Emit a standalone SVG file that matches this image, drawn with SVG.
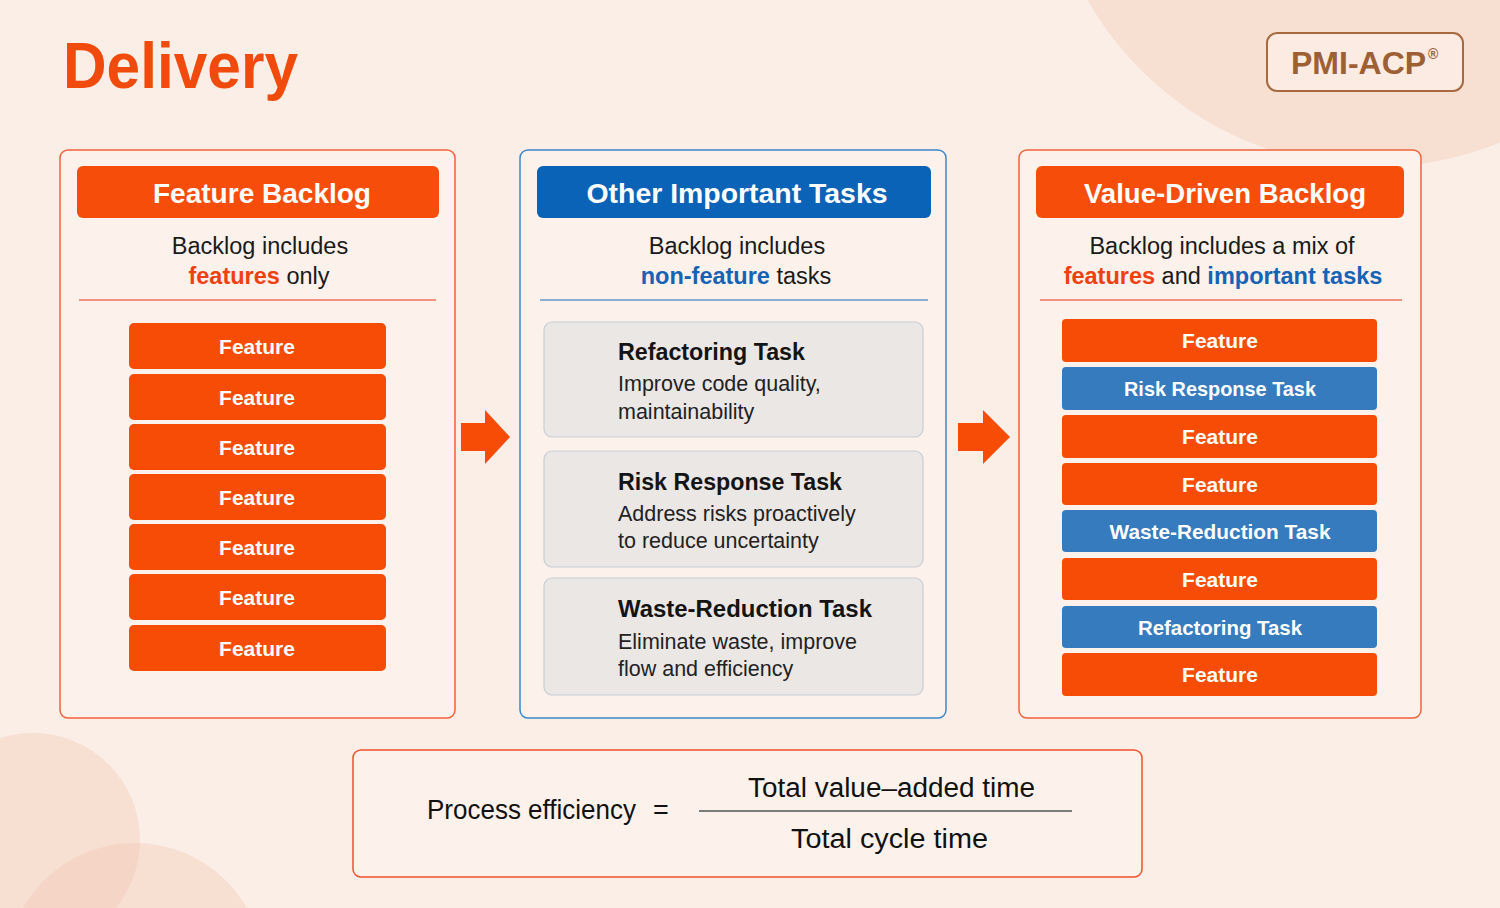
<svg xmlns="http://www.w3.org/2000/svg" width="1500" height="908" viewBox="0 0 1500 908">
<defs>
<style>
text{font-family:"Liberation Sans",Arial,sans-serif}
.panelO{fill:#FCF1EB;stroke:#F2613A;stroke-width:1.5}
.panelB{fill:#FCF1EB;stroke:#3B86CC;stroke-width:1.5}
.hdrO{fill:#F74D0A}
.hdrB{fill:#0B63B8}
.hdrT{fill:#fff;font-weight:bold;font-size:28px;text-anchor:middle}
.sub{fill:#1a1a1a;font-size:23.5px;text-anchor:middle}
.red{fill:#F0400F;font-weight:bold}
.blu{fill:#1663B5;font-weight:bold}
.barO{fill:#F74C05}
.barB{fill:#357BBE}
.barT{fill:#fff;font-weight:bold;font-size:21px;text-anchor:middle}
.card{fill:#EAE7E5;stroke:#C8CDD5;stroke-width:1.2}
.ct{fill:#141414;font-weight:bold;font-size:23px}
.cd{fill:#222;font-size:21.5px}
.deco{fill:#F2C7B3;opacity:0.4}
.arrow{fill:#F74C05}
.ftxt{fill:#111;font-size:27px}
</style>
</defs>
<rect x="0" y="0" width="1500" height="908" fill="#FBEEE7"/>
<g id="decor">
<circle class="deco" cx="1375" cy="-164" r="331"/>
<circle class="deco" cx="33" cy="840" r="107"/>
<circle class="deco" cx="135" cy="972" r="129"/>
</g>
<g id="title">
<text x="63" y="88" font-size="64" font-weight="bold" fill="#F04A0C" textLength="235" lengthAdjust="spacingAndGlyphs">Delivery</text>
</g>
<g id="badge">
<rect x="1267" y="33" width="196" height="58" rx="10" fill="#FBEBE2" stroke="#A8693F" stroke-width="2"/>
<text x="1291" y="74" font-size="32" font-weight="bold" fill="#9E5F35">PMI-ACP<tspan font-size="14" dx="2" dy="-15">®</tspan></text>
</g>
<g id="feature-backlog">
<rect class="panelO" x="60" y="150" width="395" height="568" rx="8"/>
<rect class="hdrO" x="77" y="166" width="362" height="52" rx="6"/>
<text class="hdrT" x="262" y="203" textLength="218" lengthAdjust="spacingAndGlyphs">Feature Backlog</text>
<text class="sub" x="260" y="254">Backlog includes</text>
<text class="sub" x="259" y="284"><tspan class="red">features</tspan> only</text>
<line x1="79" y1="300" x2="436" y2="300" stroke="#E8361A" stroke-width="1.2"/>
<g>
<rect class="barO" x="129" y="323" width="257" height="46" rx="5"/><text class="barT" x="257" y="354">Feature</text>
<rect class="barO" x="129" y="374" width="257" height="46" rx="5"/><text class="barT" x="257" y="405">Feature</text>
<rect class="barO" x="129" y="424" width="257" height="46" rx="5"/><text class="barT" x="257" y="455">Feature</text>
<rect class="barO" x="129" y="474" width="257" height="46" rx="5"/><text class="barT" x="257" y="505">Feature</text>
<rect class="barO" x="129" y="524" width="257" height="46" rx="5"/><text class="barT" x="257" y="555">Feature</text>
<rect class="barO" x="129" y="574" width="257" height="46" rx="5"/><text class="barT" x="257" y="605">Feature</text>
<rect class="barO" x="129" y="625" width="257" height="46" rx="5"/><text class="barT" x="257" y="656">Feature</text>
</g>
</g>
<g id="other-tasks">
<rect class="panelB" x="520" y="150" width="426" height="568" rx="8"/>
<rect class="hdrB" x="537" y="166" width="394" height="52" rx="6"/>
<text class="hdrT" x="737" y="203" textLength="301" lengthAdjust="spacingAndGlyphs">Other Important Tasks</text>
<text class="sub" x="737" y="254">Backlog includes</text>
<text class="sub" x="736" y="284"><tspan class="blu">non-feature</tspan> tasks</text>
<line x1="540" y1="300" x2="928" y2="300" stroke="#1F6FC0" stroke-width="1.2"/>
<g id="card-refactoring">
<rect class="card" x="544" y="322" width="379" height="115" rx="8"/>
<text class="ct" x="618" y="360" textLength="187" lengthAdjust="spacingAndGlyphs">Refactoring Task</text>
<text class="cd" x="618" y="391">Improve code quality,</text>
<text class="cd" x="618" y="419">maintainability</text>
</g>
<g id="card-risk">
<rect class="card" x="544" y="451" width="379" height="116" rx="8"/>
<text class="ct" x="618" y="490" textLength="224" lengthAdjust="spacingAndGlyphs">Risk Response Task</text>
<text class="cd" x="618" y="521">Address risks proactively</text>
<text class="cd" x="618" y="548">to reduce uncertainty</text>
</g>
<g id="card-waste">
<rect class="card" x="544" y="578" width="379" height="117" rx="8"/>
<text class="ct" x="618" y="617" textLength="254" lengthAdjust="spacingAndGlyphs">Waste-Reduction Task</text>
<text class="cd" x="618" y="649">Eliminate waste, improve</text>
<text class="cd" x="618" y="676">flow and efficiency</text>
</g>
</g>
<g id="value-driven-backlog">
<rect class="panelO" x="1019" y="150" width="402" height="568" rx="8"/>
<rect class="hdrO" x="1036" y="166" width="368" height="52" rx="6"/>
<text class="hdrT" x="1225" y="203" textLength="282" lengthAdjust="spacingAndGlyphs">Value-Driven Backlog</text>
<text class="sub" x="1222" y="254">Backlog includes a mix of</text>
<text class="sub" x="1223" y="284"><tspan class="red">features</tspan> and <tspan class="blu">important tasks</tspan></text>
<line x1="1040" y1="300" x2="1402" y2="300" stroke="#E8361A" stroke-width="1.2"/>
<g>
<rect class="barO" x="1062" y="319" width="315" height="43" rx="4"/><text class="barT" x="1220" y="348">Feature</text>
<rect class="barB" x="1062" y="367" width="315" height="43" rx="4"/><text class="barT" x="1220" y="396" textLength="192" lengthAdjust="spacingAndGlyphs">Risk Response Task</text>
<rect class="barO" x="1062" y="415" width="315" height="43" rx="4"/><text class="barT" x="1220" y="444">Feature</text>
<rect class="barO" x="1062" y="463" width="315" height="42" rx="4"/><text class="barT" x="1220" y="492">Feature</text>
<rect class="barB" x="1062" y="510" width="315" height="42" rx="4"/><text class="barT" x="1220" y="539" textLength="221" lengthAdjust="spacingAndGlyphs">Waste-Reduction Task</text>
<rect class="barO" x="1062" y="558" width="315" height="42" rx="4"/><text class="barT" x="1220" y="587">Feature</text>
<rect class="barB" x="1062" y="606" width="315" height="42" rx="4"/><text class="barT" x="1220" y="635" textLength="164" lengthAdjust="spacingAndGlyphs">Refactoring Task</text>
<rect class="barO" x="1062" y="653" width="315" height="43" rx="4"/><text class="barT" x="1220" y="682">Feature</text>
</g>
</g>
<g id="connectors">
<polygon class="arrow" points="461,423 485,423 485,410 510,437 485,464 485,451 461,451"/>
<polygon class="arrow" points="958,423 983,423 983,410 1010,437 983,464 983,451 958,451"/>
</g>
<g id="formula">
<rect x="353" y="750" width="789" height="127" rx="8" fill="#FCF1EB" stroke="#F0502A" stroke-width="1.5"/>
<text class="ftxt" x="427" y="819" textLength="209" lengthAdjust="spacingAndGlyphs">Process efficiency</text>
<text class="ftxt" x="661" y="819" text-anchor="middle">=</text>
<line x1="699" y1="811" x2="1072" y2="811" stroke="#555" stroke-width="1.6"/>
<text class="ftxt" x="748" y="797" textLength="287" lengthAdjust="spacingAndGlyphs">Total value–added time</text>
<text class="ftxt" x="791" y="848" textLength="197" lengthAdjust="spacingAndGlyphs">Total cycle time</text>
</g>
</svg>
